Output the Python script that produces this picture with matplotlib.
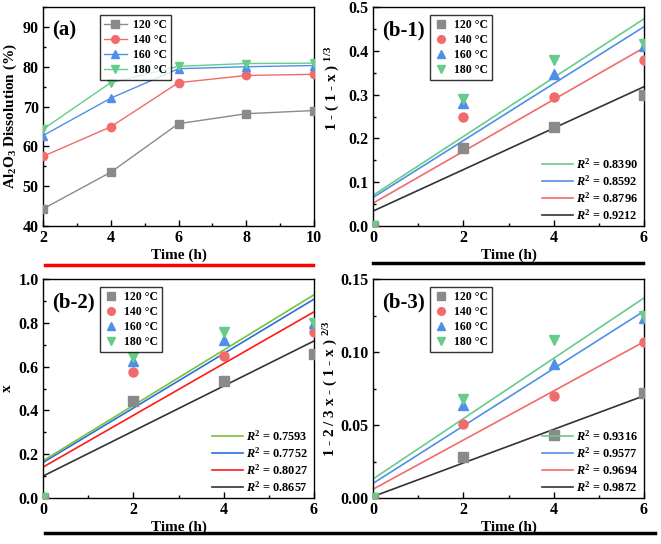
import matplotlib
matplotlib.use("Agg")
import matplotlib.pyplot as plt
from matplotlib.ticker import AutoMinorLocator, MultipleLocator
from matplotlib.lines import Line2D

plt.rcParams['font.family'] = ['Liberation Serif', 'DejaVu Serif']
plt.rcParams['font.weight'] = 'bold'
plt.rcParams['axes.labelweight'] = 'bold'
plt.rcParams['mathtext.fontset'] = 'custom'
plt.rcParams['mathtext.rm'] = 'Liberation Serif:bold'
plt.rcParams['mathtext.bf'] = 'Liberation Serif:bold'
plt.rcParams['mathtext.it'] = 'Liberation Serif:italic:bold'

# данные
temps = ['120 °C', '140 °C', '160 °C', '180 °C']
colors = ['#8a8a8a', '#f26b6b', '#4f8fe8', '#66cc8a']
markers = ['s', 'o', '^', 'v']

time_a = [2, 4, 6, 8, 10]
diss_120 = [44.3, 53.5, 65.7, 68.2, 69.0]
diss_140 = [57.5, 64.9, 76.0, 77.8, 78.1]
diss_160 = [62.7, 72.1, 79.5, 80.0, 80.3]
diss_180 = [64.3, 76.0, 80.1, 80.8, 80.9]

time_b = [0, 2, 4, 6]
b1_120 = [0, 0.178, 0.225, 0.300]
b1_140 = [0, 0.248, 0.295, 0.378]
b1_160 = [0, 0.280, 0.347, 0.410]
b1_180 = [0, 0.290, 0.380, 0.415]
b1_fit_start = [0.034, 0.052, 0.065, 0.070]
b1_fit_end = [0.318, 0.407, 0.455, 0.473]
b1_r2 = ['0.9212', '0.8796', '0.8592', '0.8390']

b2_120 = [0, 0.443, 0.535, 0.657]
b2_140 = [0, 0.575, 0.649, 0.760]
b2_160 = [0, 0.627, 0.721, 0.797]
b2_180 = [0, 0.643, 0.760, 0.801]
b2_fit_start = [0.100, 0.141, 0.162, 0.170]
b2_fit_end = [0.717, 0.850, 0.908, 0.928]
b2_r2 = ['0.8657', '0.8027', '0.7752', '0.7593']

b3_120 = [0, 0.028, 0.043, 0.072]
b3_140 = [0, 0.051, 0.070, 0.107]
b3_160 = [0, 0.064, 0.092, 0.123]
b3_180 = [0, 0.068, 0.108, 0.125]
b3_fit_start = [0.001, 0.006, 0.010, 0.013]
b3_fit_end = [0.070, 0.107, 0.128, 0.137]
b3_r2 = ['0.9872', '0.9694', '0.9577', '0.9316']

fit_colors = ['#333333', '#f26b6b', '#4f8fe8', '#66cc8a']
fit_colors_b2 = ['#333333', '#ff1a1a', '#2a6ee0', '#77c23a']

fig = plt.figure(figsize=(6.61, 5.44), dpi=100)
W, H = 661, 544


def make_ax(l, t, r, b):
    return fig.add_axes([l / W, 1 - b / H, (r - l) / W, (b - t) / H])


def style(ax):
    ax.tick_params(which='both', direction='in', labelsize=11.5, width=1, pad=3)
    ax.tick_params(which='major', length=4)
    ax.tick_params(which='minor', length=2)
    ax.xaxis.set_minor_locator(AutoMinorLocator(2))
    ax.yaxis.set_minor_locator(AutoMinorLocator(2))
    for s in ax.spines.values():
        s.set_linewidth(1.0)
    for lab in ax.get_xticklabels() + ax.get_yticklabels():
        lab.set_fontweight('bold')
    ax.set_xlabel('Time (h)', fontsize=11, fontweight='bold', labelpad=2)


def temp_legend(ax, with_lines):
    handles = []
    for c, m, t in zip(colors, markers, temps):
        handles.append(Line2D([], [], color=c, marker=m, markersize=5.5,
                              linestyle='-' if with_lines else 'none', lw=1, label=t))
    leg = ax.legend(handles=handles, loc='upper left', bbox_to_anchor=(0.2, 0.975),
                    frameon=True, fancybox=False, edgecolor='black', fontsize=8.5,
                    handlelength=2.0 if with_lines else 1.2, labelspacing=0.25,
                    borderpad=0.35, handletextpad=0.5, borderaxespad=0.2)
    leg.get_frame().set_linewidth(1.0)
    return leg


def fit_panel(ax, series, starts, ends, r2s, fcolors):
    for vals, c, m in zip(series, colors, markers):
        ax.plot(time_b, vals, linestyle='none', marker=m, color=c, markersize=6.5, zorder=3)
    fit_handles = []
    for s, e, c, r in zip(starts, ends, fcolors, r2s):
        ln, = ax.plot([0, 6], [s, e], color=c, lw=1.2, label=r'$\mathit{R}^2$ = ' + r)
        fit_handles.append(ln)
    leg1 = temp_legend(ax, False)
    ax.add_artist(leg1)
    ax.legend(handles=fit_handles[::-1], loc='lower right', bbox_to_anchor=(1.02, -0.035),
              frameon=False, fontsize=8.8, handlelength=2.5, labelspacing=0.2,
              handletextpad=0.3)
    ax.set_xlim(0, 6)
    ax.xaxis.set_major_locator(MultipleLocator(2))


# (a)
ax_a = make_ax(43, 7, 314, 226)
for vals, c, m in zip([diss_120, diss_140, diss_160, diss_180], colors, markers):
    ax_a.plot(time_a, vals, color=c, marker=m, markersize=6, lw=1, zorder=3)
ax_a.set_xlim(2, 10)
ax_a.set_ylim(40, 95)
ax_a.xaxis.set_major_locator(MultipleLocator(2))
ax_a.yaxis.set_major_locator(MultipleLocator(10))
temp_legend(ax_a, True)
ax_a.text(0.035, 0.94, '(a)', transform=ax_a.transAxes, fontsize=15, fontweight='bold', va='top')
ax_a.set_ylabel(r'Al$_2$O$_3$ Dissolution (%)', fontsize=11, fontweight='bold', labelpad=3)
style(ax_a)

# (b-1)
ax_b1 = make_ax(373, 7, 644, 226)
fit_panel(ax_b1, [b1_120, b1_140, b1_160, b1_180], b1_fit_start, b1_fit_end, b1_r2, fit_colors)
ax_b1.set_ylim(0, 0.5)
ax_b1.yaxis.set_major_locator(MultipleLocator(0.1))
ax_b1.text(0.035, 0.94, '(b-1)', transform=ax_b1.transAxes, fontsize=15, fontweight='bold', va='top')
ax_b1.set_ylabel(r'1 - ( 1 - x ) $^{1/3}$', fontsize=11, fontweight='bold')
ax_b1.yaxis.set_label_coords(-0.115, 0.63)
style(ax_b1)

# (b-2)
ax_b2 = make_ax(43, 279, 314, 498)
fit_panel(ax_b2, [b2_120, b2_140, b2_160, b2_180], b2_fit_start, b2_fit_end, b2_r2, fit_colors_b2)
ax_b2.set_ylim(0, 1.0)
ax_b2.yaxis.set_major_locator(MultipleLocator(0.2))
ax_b2.text(0.035, 0.94, '(b-2)', transform=ax_b2.transAxes, fontsize=15, fontweight='bold', va='top')
ax_b2.set_ylabel('x', fontsize=11, fontweight='bold', labelpad=3)
style(ax_b2)

# (b-3)
ax_b3 = make_ax(373, 279, 644, 498)
fit_panel(ax_b3, [b3_120, b3_140, b3_160, b3_180], b3_fit_start, b3_fit_end, b3_r2, fit_colors)
ax_b3.set_ylim(0, 0.15)
ax_b3.yaxis.set_major_locator(MultipleLocator(0.05))
ax_b3.text(0.035, 0.94, '(b-3)', transform=ax_b3.transAxes, fontsize=15, fontweight='bold', va='top')
ax_b3.set_ylabel(r'1 - 2 / 3 x - ( 1 - x ) $^{2/3}$', fontsize=11, fontweight='bold')
ax_b3.yaxis.set_label_coords(-0.12, 0.5)
style(ax_b3)

# полосы под панелями
fig.add_artist(Line2D([45 / W, 313 / W], [1 - 265 / H] * 2, color='#ff0000', lw=2.5))
fig.add_artist(Line2D([373 / W, 643 / W], [1 - 263 / H] * 2, color='black', lw=2.5))
fig.add_artist(Line2D([45 / W, 655 / W], [1 - 533 / H] * 2, color='black', lw=2.5))

fig.savefig('out.png', dpi=100)
